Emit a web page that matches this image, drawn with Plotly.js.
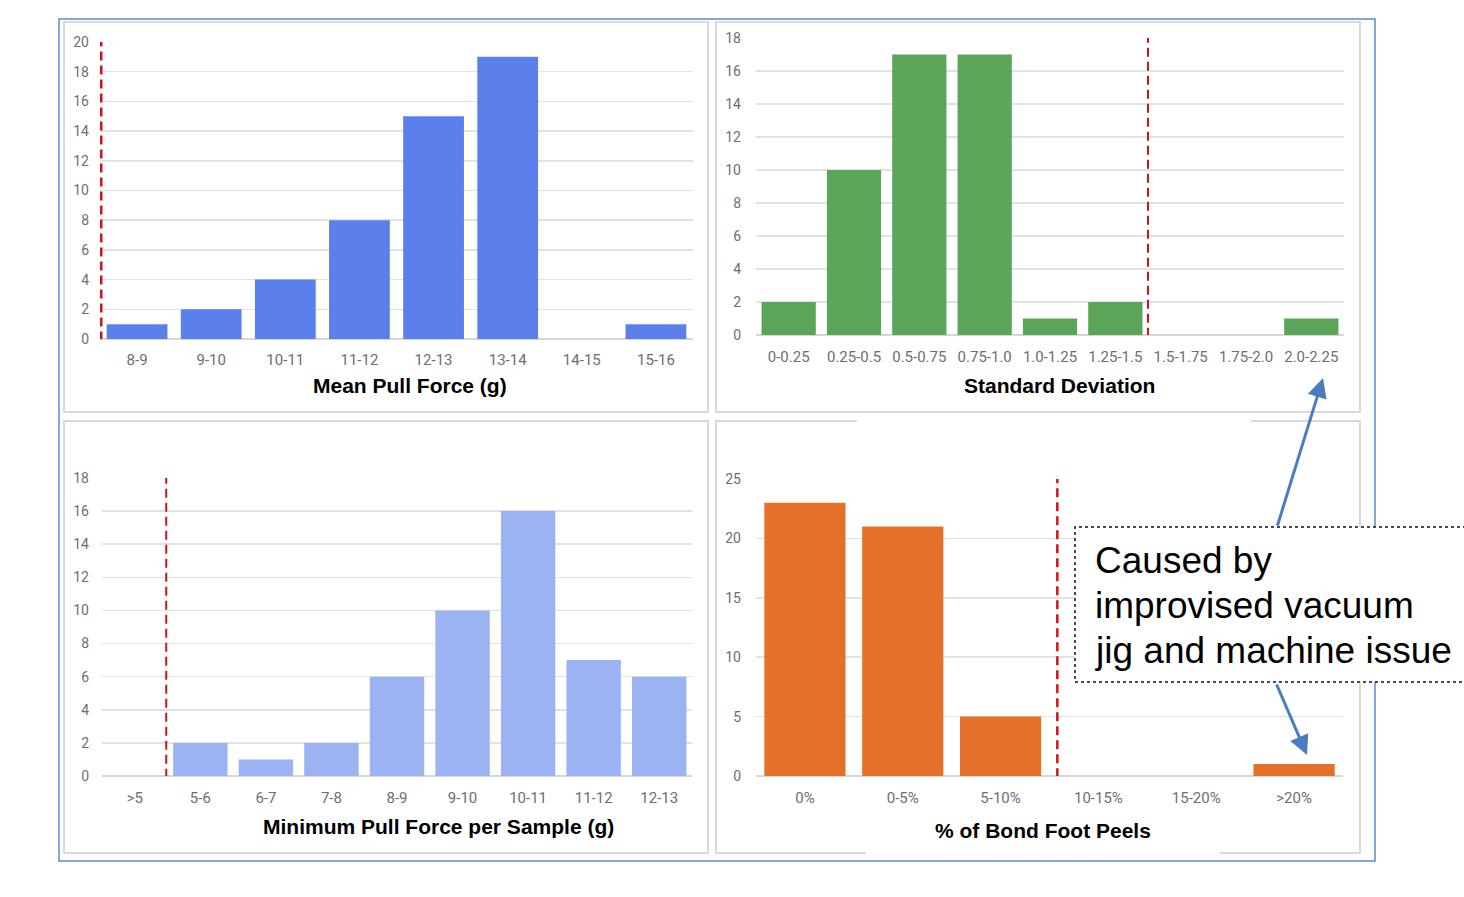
<!DOCTYPE html>
<html>
<head>
<meta charset="utf-8">
<script src="https://cdn.plot.ly/plotly-3.0.1.min.js"></script>
<style>
  html, body { margin: 0; padding: 0; background: #ffffff; }
  #chart { width: 1464px; height: 897px; }
</style>
</head>
<body>
<div id="chart"></div>
<script>
// Mean pull force histogram
const meanForceBins = ['8-9', '9-10', '10-11', '11-12', '12-13', '13-14', '14-15', '15-16'];
const meanForceCounts = [1, 2, 4, 8, 15, 19, 0, 1];

// Standard deviation histogram
const stdDevBins = ['0-0.25', '0.25-0.5', '0.5-0.75', '0.75-1.0', '1.0-1.25', '1.25-1.5', '1.5-1.75', '1.75-2.0', '2.0-2.25'];
const stdDevCounts = [2, 10, 17, 17, 1, 2, 0, 0, 1];

// Minimum pull force per sample histogram
const minForceBins = ['>5', '5-6', '6-7', '7-8', '8-9', '9-10', '10-11', '11-12', '12-13'];
const minForceCounts = [0, 2, 1, 2, 6, 10, 16, 7, 6];

// Bond foot peel percentage histogram
const peelBins = ['0%', '0-5%', '5-10%', '10-15%', '15-20%', '>20%'];
const peelCounts = [23, 21, 5, 0, 0, 1];

// Limit markers (category position on each x axis)
const meanForceLimit = -0.49;
const stdDevLimit = 5.5;
const minForceLimit = 0.48;
const peelLimit = 2.58;

const axisTitles = ['Mean Pull Force (g)', 'Standard Deviation', 'Minimum Pull Force per Sample (g)', '% of Bond Foot Peels'];
const noteLines = ['Caused by', 'improvised vacuum', 'jig and machine issue'];

const W = 1464, H = 897;
const px = x => x / W;
const py = y => 1 - y / H;

const xTickFont = { family: 'Roboto, Arial, sans-serif', size: 15, color: '#6e6e6e' };
const yTickFont = { family: 'Roboto, Arial, sans-serif', size: 14, color: '#6e6e6e' };
const gridColor = '#e2e2e2';

function xAxis(cats, x0, x1, anchor, standoff) {
  return {
    domain: [px(x0), px(x1)], anchor: anchor, type: 'category',
    range: [-0.5, cats.length - 0.5], showgrid: false, zeroline: false,
    showline: false, ticks: '', tickfont: xTickFont, ticklabelstandoff: standoff,
    fixedrange: true
  };
}
function yAxis(top, bottom, max, dtick, anchor, standoff) {
  return {
    domain: [py(bottom), py(top)], anchor: anchor, range: [0, max], dtick: dtick,
    showgrid: true, gridcolor: gridColor, gridwidth: 1.5,
    zeroline: true, zerolinecolor: '#d6d6d6', zerolinewidth: 1.5,
    showline: false, ticks: '', tickfont: yTickFont, ticklabelstandoff: standoff,
    fixedrange: true
  };
}

const traces = [
  { type: 'bar', x: meanForceBins, y: meanForceCounts, xaxis: 'x', yaxis: 'y',
    marker: { color: '#5b80ec' }, width: 0.82, hoverinfo: 'x+y' },
  { type: 'bar', x: stdDevBins, y: stdDevCounts, xaxis: 'x2', yaxis: 'y2',
    marker: { color: '#5aa557' }, width: 0.83, hoverinfo: 'x+y' },
  { type: 'bar', x: minForceBins, y: minForceCounts, xaxis: 'x3', yaxis: 'y3',
    marker: { color: '#9bb3f2' }, width: 0.83, hoverinfo: 'x+y' },
  { type: 'bar', x: peelBins, y: peelCounts, xaxis: 'x4', yaxis: 'y4',
    marker: { color: '#e5702a' }, width: 0.83, hoverinfo: 'x+y' }
];

const panelLine = { color: '#d9d9d9', width: 2 };
function panel(x0, y0, x1, y1) {
  return { type: 'rect', xref: 'paper', yref: 'paper', layer: 'below',
    x0: px(x0), x1: px(x1), y0: py(y1), y1: py(y0), line: panelLine, fillcolor: 'rgba(0,0,0,0)' };
}
function limitLine(xref, yref, xv, ymax, width) {
  return { type: 'line', xref: xref, yref: yref, layer: 'above',
    x0: xv, x1: xv, y0: -0.1, y1: ymax,
    line: { color: '#d0121b', width: width, dash: '9px,5px' } };
}

const shapes = [
  panel(64, 22, 708, 412),
  panel(716, 22, 1360, 412),
  panel(64, 421, 708, 853),
  panel(716, 421, 1360, 853),
  // white patches interrupting the lower-right panel frame
  { type: 'rect', xref: 'paper', yref: 'paper', layer: 'below', x0: px(857), x1: px(1251),
    y0: py(425), y1: py(418), line: { width: 0 }, fillcolor: '#ffffff' },
  { type: 'rect', xref: 'paper', yref: 'paper', layer: 'below', x0: px(866), x1: px(1220),
    y0: py(857), y1: py(850), line: { width: 0 }, fillcolor: '#ffffff' },
  // outer frame
  { type: 'rect', xref: 'paper', yref: 'paper', layer: 'above',
    x0: px(59), x1: px(1375), y0: py(861), y1: py(19),
    line: { color: '#5a8ad0', width: 1.5 }, fillcolor: 'rgba(0,0,0,0)' },
  limitLine('x', 'y', meanForceLimit, 20, 3.5),
  limitLine('x2', 'y2', stdDevLimit, 18, 2),
  limitLine('x3', 'y3', minForceLimit, 18, 2),
  limitLine('x4', 'y4', peelLimit, 25, 2.5),
  // callout box
  { type: 'rect', xref: 'paper', yref: 'paper', layer: 'above',
    x0: px(1075), x1: px(1475), y0: py(682), y1: py(527),
    line: { color: '#111111', width: 1.5, dash: 'dot' }, fillcolor: '#ffffff' }
];

function title(text, cx, cy, size) {
  return { xref: 'paper', yref: 'paper', x: px(cx), y: py(cy), xanchor: 'center', yanchor: 'middle',
    text: '<b>' + text + '</b>', showarrow: false,
    font: { family: 'Liberation Sans, Arial, sans-serif', size: size, color: '#000000' } };
}

const annotations = [
  title(axisTitles[0], 410, 385, 21),
  title(axisTitles[1], 1059, 385, 21),
  title(axisTitles[2], 438, 826, 21),
  title(axisTitles[3], 1043, 830, 21)
];
noteLines.forEach((t, i) => {
  annotations.push({ xref: 'paper', yref: 'paper', x: px(1093), y: py(560 + i * 45),
    xanchor: 'left', yanchor: 'middle', text: t, showarrow: false,
    font: { family: 'Liberation Sans, Arial, sans-serif', size: 37, color: '#000000' } });
});
// arrows from the callout to the outlying bins
annotations.push({ xref: 'paper', yref: 'paper', x: px(1323), y: py(378), ax: -46, ay: 149,
  text: '', showarrow: true, arrowhead: 2, arrowsize: 1.3, arrowwidth: 3, arrowcolor: '#4a7dc0', standoff: 0 });
annotations.push({ xref: 'paper', yref: 'paper', x: px(1307), y: py(755), ax: -31, ay: -72,
  text: '', showarrow: true, arrowhead: 2, arrowsize: 1.3, arrowwidth: 3, arrowcolor: '#4a7dc0', standoff: 0 });

const layout = {
  width: W, height: H,
  margin: { l: 0, r: 0, t: 0, b: 0 },
  paper_bgcolor: '#ffffff', plot_bgcolor: 'rgba(0,0,0,0)',
  showlegend: false,
  xaxis: xAxis(meanForceBins, 100, 693, 'y', 10),
  yaxis: yAxis(42, 339, 20, 2, 'x', 10),
  xaxis2: xAxis(stdDevBins, 756, 1344, 'y2', 11),
  yaxis2: yAxis(38, 335, 18, 2, 'x2', 14),
  xaxis3: xAxis(minForceBins, 102, 692, 'y3', 11),
  yaxis3: yAxis(478, 776, 18, 2, 'x3', 12),
  xaxis4: xAxis(peelBins, 756, 1343, 'y4', 11),
  yaxis4: yAxis(479, 776, 25, 5, 'x4', 14),
  shapes: shapes,
  annotations: annotations
};

Plotly.newPlot('chart', traces, layout, { displayModeBar: false, staticPlot: true });
</script>
</body>
</html>
